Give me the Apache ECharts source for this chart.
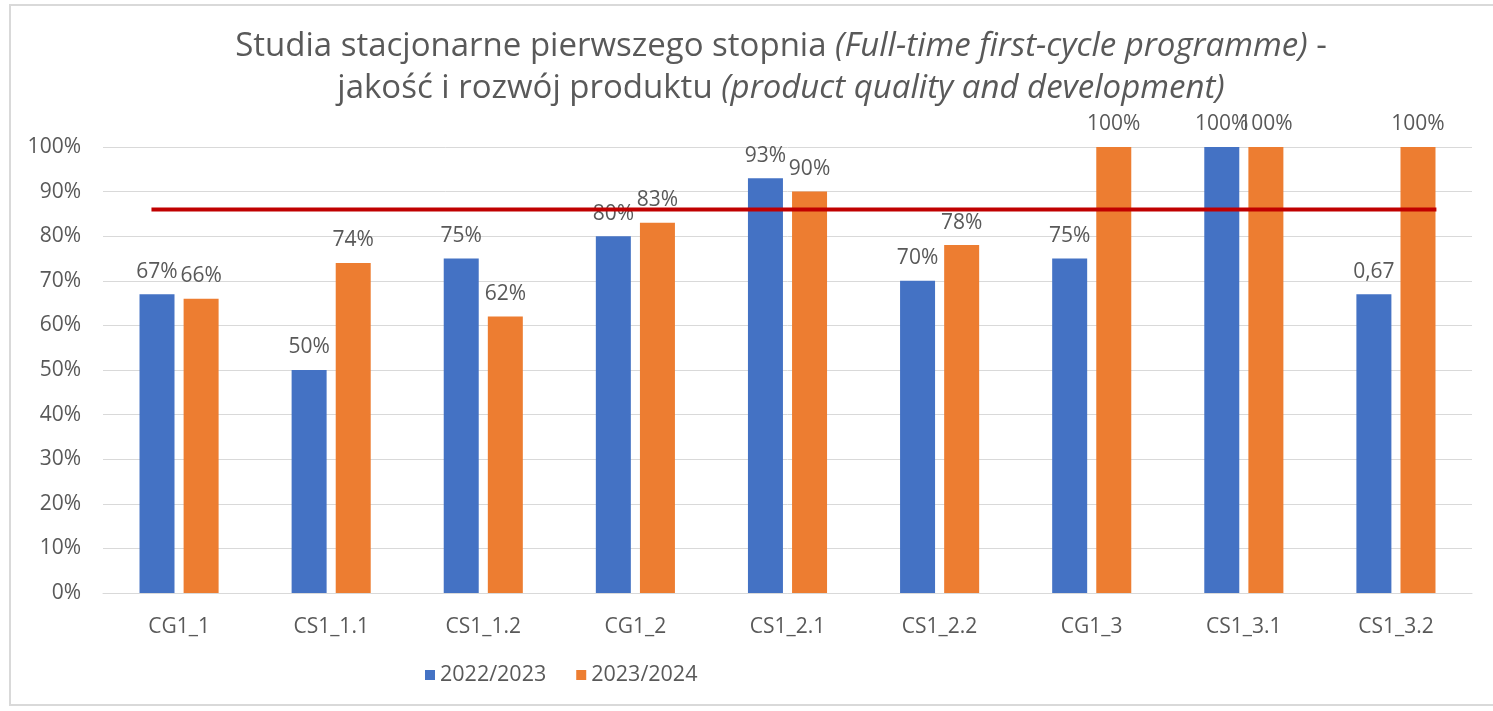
<!DOCTYPE html>
<html><head><meta charset="utf-8">
<script src="https://cdn.jsdelivr.net/npm/echarts@6/dist/echarts.min.js"></script>
<style>html,body{margin:0;padding:0;background:#fff}#c{width:1493px;height:711px}</style>
</head><body><div id="c"></div>
<script>
const categories = ['CG1_1','CS1_1.1','CS1_1.2','CG1_2','CS1_2.1','CS1_2.2','CG1_3','CS1_3.1','CS1_3.2'];
const seriesNames = ['2022/2023','2023/2024'];
const values2022 = [0.67,0.50,0.75,0.80,0.93,0.70,0.75,1.00,0.67];
const values2023 = [0.66,0.74,0.62,0.83,0.90,0.78,1.00,1.00,1.00];
const labels2022 = ['67%','50%','75%','80%','93%','70%','75%','100%','0,67'];
const labels2023 = ['66%','74%','62%','83%','90%','78%','100%','100%','100%'];
const yTicks = [0,0.1,0.2,0.3,0.4,0.5,0.6,0.7,0.8,0.9,1.0];
const threshold = 0.86;
const thresholdSpan = [0.0354, 0.9740];

const FONT = 'Open Sans';
const chart = echarts.init(document.getElementById('c'));
chart.setOption({
  animation: false,
  textStyle: {fontFamily: FONT},
  title: {
    left: 776, top: 21, textAlign: 'center',
    text: '{n|Studia stacjonarne pierwszego stopnia }{i|(Full-time first-cycle programme)}{n| -}\n{n|jakość i rozwój produktu }{i|(product quality and development)}',
    textStyle: {
      fontWeight: 'normal',
      rich: {
        n: {fontFamily: FONT, fontSize: 33, color: '#595959', lineHeight: 42, fontWeight: 'normal'},
        i: {fontFamily: FONT, fontSize: 33, color: '#595959', fontStyle: 'italic', lineHeight: 42, fontWeight: 'normal'}
      }
    }
  },
  graphic: [{type: 'rect', shape: {x: 10, y: 5, width: 1500, height: 700}, style: {fill: 'none', stroke: '#d9d9d9', lineWidth: 2}, silent: true}],
  legend: {
    left: 420, top: 659, itemWidth: 10, itemHeight: 10, itemGap: 30,
    icon: 'rect',
    textStyle: {fontFamily: FONT, fontSize: 21.5, color: '#595959'},
    data: seriesNames
  },
  grid: {left: 103, right: 21, top: 147, bottom: 118, containLabel: false},
  xAxis: [{
    type: 'category', data: categories,
    axisLine: {lineStyle: {color: '#d9d9d9'}},
    axisTick: {show: false},
    axisLabel: {fontFamily: FONT, fontSize: 21, color: '#595959', margin: 24}
  }, {
    type: 'value', min: 0, max: 1, show: false
  }],
  yAxis: {
    type: 'value', min: 0, max: 1, interval: 0.1,
    axisLine: {show: false}, axisTick: {show: false},
    splitLine: {lineStyle: {color: '#d9d9d9', width: 1}},
    axisLabel: {fontFamily: FONT, fontSize: 21, color: '#595959', margin: 22,
      formatter: v => Math.round(v * 100) + '%'}
  },
  series: [{
    name: seriesNames[0], type: 'bar', data: values2022, barWidth: 35, barGap: '26%',
    itemStyle: {color: '#4472C4'},
    label: {show: true, position: 'top', distance: 12, fontFamily: FONT, fontSize: 21, color: '#595959',
      formatter: p => labels2022[p.dataIndex]}
  }, {
    name: seriesNames[1], type: 'bar', data: values2023, barWidth: 35,
    itemStyle: {color: '#ED7D31'},
    label: {show: true, position: 'top', distance: 12, fontFamily: FONT, fontSize: 21, color: '#595959',
      formatter: p => labels2023[p.dataIndex]}
  }, {
    name: 'threshold', type: 'line', xAxisIndex: 1, symbol: 'none',
    data: thresholdSpan.map(x => [x, threshold]),
    lineStyle: {color: '#C00000', width: 4}, z: 5
  }]
});
</script></body></html>
